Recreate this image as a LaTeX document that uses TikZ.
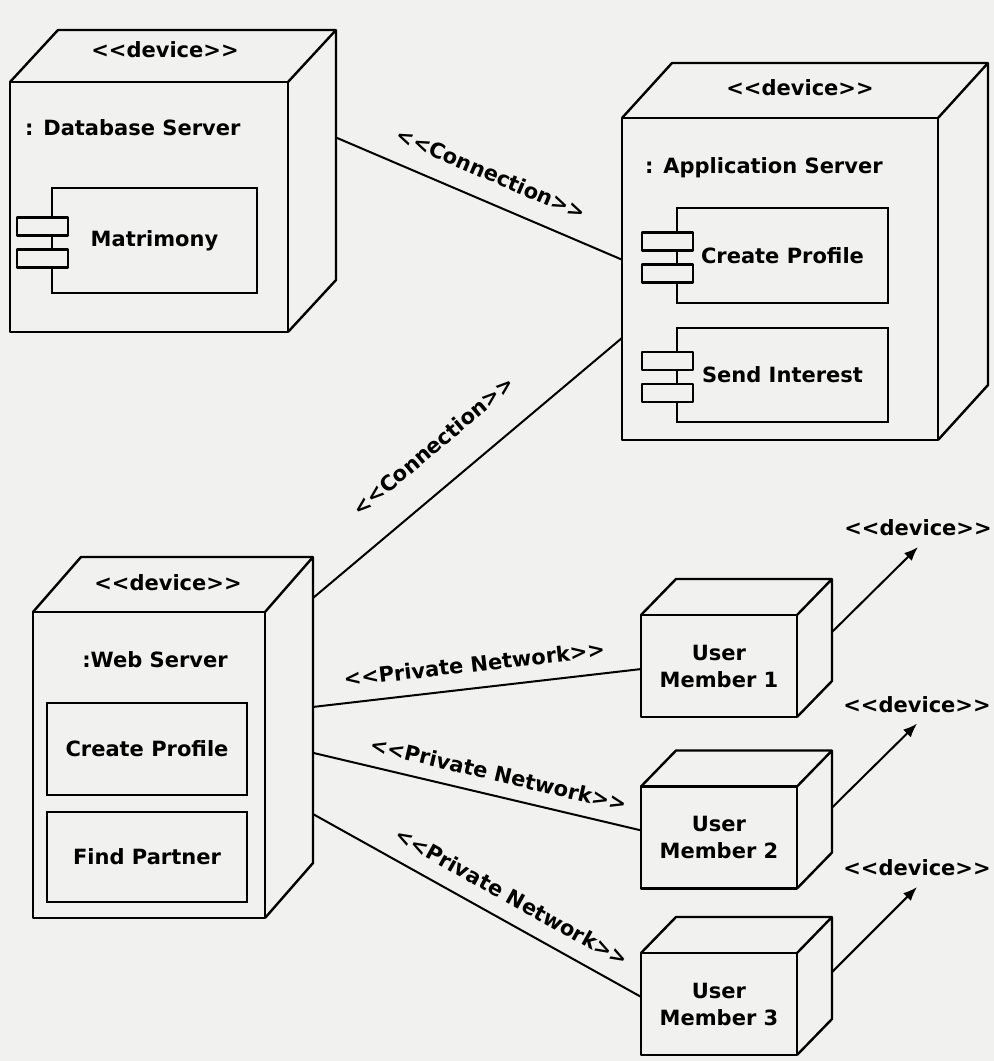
\documentclass[tikz,border=0pt]{standalone}
\usepackage{fontspec}
\setmainfont{DejaVu Sans}
\usetikzlibrary{
	arrows.meta,									% arrow tips
	calc,											% coordinate calculation
	positioning,									% relative placement
}

\definecolor{paper}{RGB}{241,241,239}
% stereotype brackets, kept apart so they stay < and >
\newcommand\stereo[1]{<\kern0pt<#1>\kern0pt>}
% top and side face of a device
\newcommand\devicedepth[3]{%
	\coordinate (#1-bnw) at ($(#1.north west)+(#2,#3)$);
	\coordinate (#1-bne) at ($(#1.north east)+(#2,#3)$);
	\coordinate (#1-bse) at ($(#1.south east)+(#2,#3)$);
	\draw [edge] (#1.north west) -- (#1-bnw) -- (#1-bne) -- (#1-bse) -- (#1.south east)
		(#1.north east) -- (#1-bne);
}
% the two tabs of a component
\newcommand\comptabs[1]{%
	\draw [edge, fill=paper] ($(#1.west)+(-35,-23)$) rectangle ++(51,18)
		($(#1.west)+(-35,9)$) rectangle ++(51,18);
}

\begin{document}
\begin{tikzpicture}[x=0.5pt, y=-0.5pt, line width=1.2pt,
		font=\fontsize{10.5}{13.5}\selectfont\bfseries,
		edge/.style={line join=round},
		device/.style={draw, fill=paper, outer sep=0pt, inner sep=0pt, line join=round},
		component/.style={draw, fill=paper, outer sep=0pt, inner sep=0pt},
		link/.style={line width=1pt},
		tag/.style={inner sep=1pt},
	]
	\fill [paper] (0,0) rectangle (994,1061);
	\useasboundingbox (0,0) rectangle (994,1061);

	% database server
	\node [device, minimum width=139pt, minimum height=125pt] (db) at (149,207) {};
	\devicedepth{db}{48}{-52}
	\node [tag] (db-st) at (165,50) {\stereo{device}};
	\node [tag, anchor=west] (db-name) at (22,128) {: Database Server};
	\node [component, minimum width=102.5pt, minimum height=52.5pt] (matrimony) at (154.5,240.5) {Matrimony};
	\comptabs{matrimony}

	% application server
	\node [device, minimum width=158pt, minimum height=161pt] (app) at (780,279) {};
	\devicedepth{app}{50}{-55}
	\node [tag] (app-st) at (800,88) {\stereo{device}};
	\node [tag, anchor=west] (app-name) at (642,168) {: Application Server};
	\node [component, minimum width=105.5pt, minimum height=47.5pt] (app-create) at (782.5,255.5) {Create Profile};
	\comptabs{app-create}
	\node [component, minimum width=105.5pt, minimum height=47pt] (app-send) at (782.5,375) {Send Interest};
	\comptabs{app-send}

	% web server
	\node [device, minimum width=116pt, minimum height=153pt] (web) at (149,765) {};
	\devicedepth{web}{48}{-55}
	\node [tag] (web-st) at (168,583) {\stereo{device}};
	\node [tag] (web-name) at (155,660) {:Web Server};
	\node [component, minimum width=100pt, minimum height=46pt] (web-create) at (147,749) {Create Profile};
	\node [component, minimum width=100pt, minimum height=45pt] (web-find) at (147,857) {Find Partner};

	% user members
	\node [device, minimum width=78pt, minimum height=51pt, align=center] (um1) at (719,666) {User\\Member 1};
	\devicedepth{um1}{35}{-36}
	\node [device, minimum width=78pt, minimum height=51pt, align=center] (um2) at (719,837.5) {User\\Member 2};
	\devicedepth{um2}{35}{-36}
	\node [device, minimum width=78pt, minimum height=51pt, align=center] (um3) at (719,1004) {User\\Member 3};
	\devicedepth{um3}{35}{-36}

	% connections
	\draw [link] ($(db-bne)!0.43!(db-bse)$) -- node [tag, pos=0.505, sloped, above=8.5pt] (db-app) {\stereo{Connection}}
		($(app.north west)!0.44!(app.south west)$);
	\draw [link] ($(web-bne)!0.134!(web-bse)$) -- node [tag, pos=0.47, sloped, above=14pt] (web-app) {\stereo{Connection}}
		($(app.north west)!0.683!(app.south west)$);
	\draw [link] ($(web-bne)!0.49!(web-bse)$) -- node [tag, pos=0.5, sloped, above=6.5pt] (web-um1) {\stereo{Private Network}}
		($(um1.north west)!0.53!(um1.south west)$);
	\draw [link] ($(web-bne)!0.64!(web-bse)$) -- node [tag, pos=0.55, sloped, above=5.5pt] (web-um2) {\stereo{Private Network}}
		($(um2.north west)!0.43!(um2.south west)$);
	\draw [link] ($(web-bne)!0.84!(web-bse)$) -- node [tag, pos=0.57, sloped, above=6.8pt] (web-um3) {\stereo{Private Network}}
		($(um3.north west)!0.43!(um3.south west)$);

	% devices of the members
	\coordinate (um1-tip) at ($(um1-bne)!0.52!(um1-bse)+(86,-85)$);
	\coordinate (um2-tip) at ($(um2-bne)!0.56!(um2-bse)+(85,-84)$);
	\coordinate (um3-tip) at ($(um3-bne)!0.54!(um3-bse)+(85,-85)$);
	\draw [link, -{Latex[length=7pt, width=5.5pt]}] ($(um1-bne)!0.52!(um1-bse)$) -- (um1-tip);
	\draw [link, -{Latex[length=7pt, width=5.5pt]}] ($(um2-bne)!0.56!(um2-bse)$) -- (um2-tip);
	\draw [link, -{Latex[length=7pt, width=5.5pt]}] ($(um3-bne)!0.54!(um3-bse)$) -- (um3-tip);
	\node [tag, above=4pt of um1-tip] (um1-dev) {\stereo{device}};
	\node [tag, above=4pt of um2-tip] (um2-dev) {\stereo{device}};
	\node [tag, above=4pt of um3-tip] (um3-dev) {\stereo{device}};
\end{tikzpicture}
\end{document}
